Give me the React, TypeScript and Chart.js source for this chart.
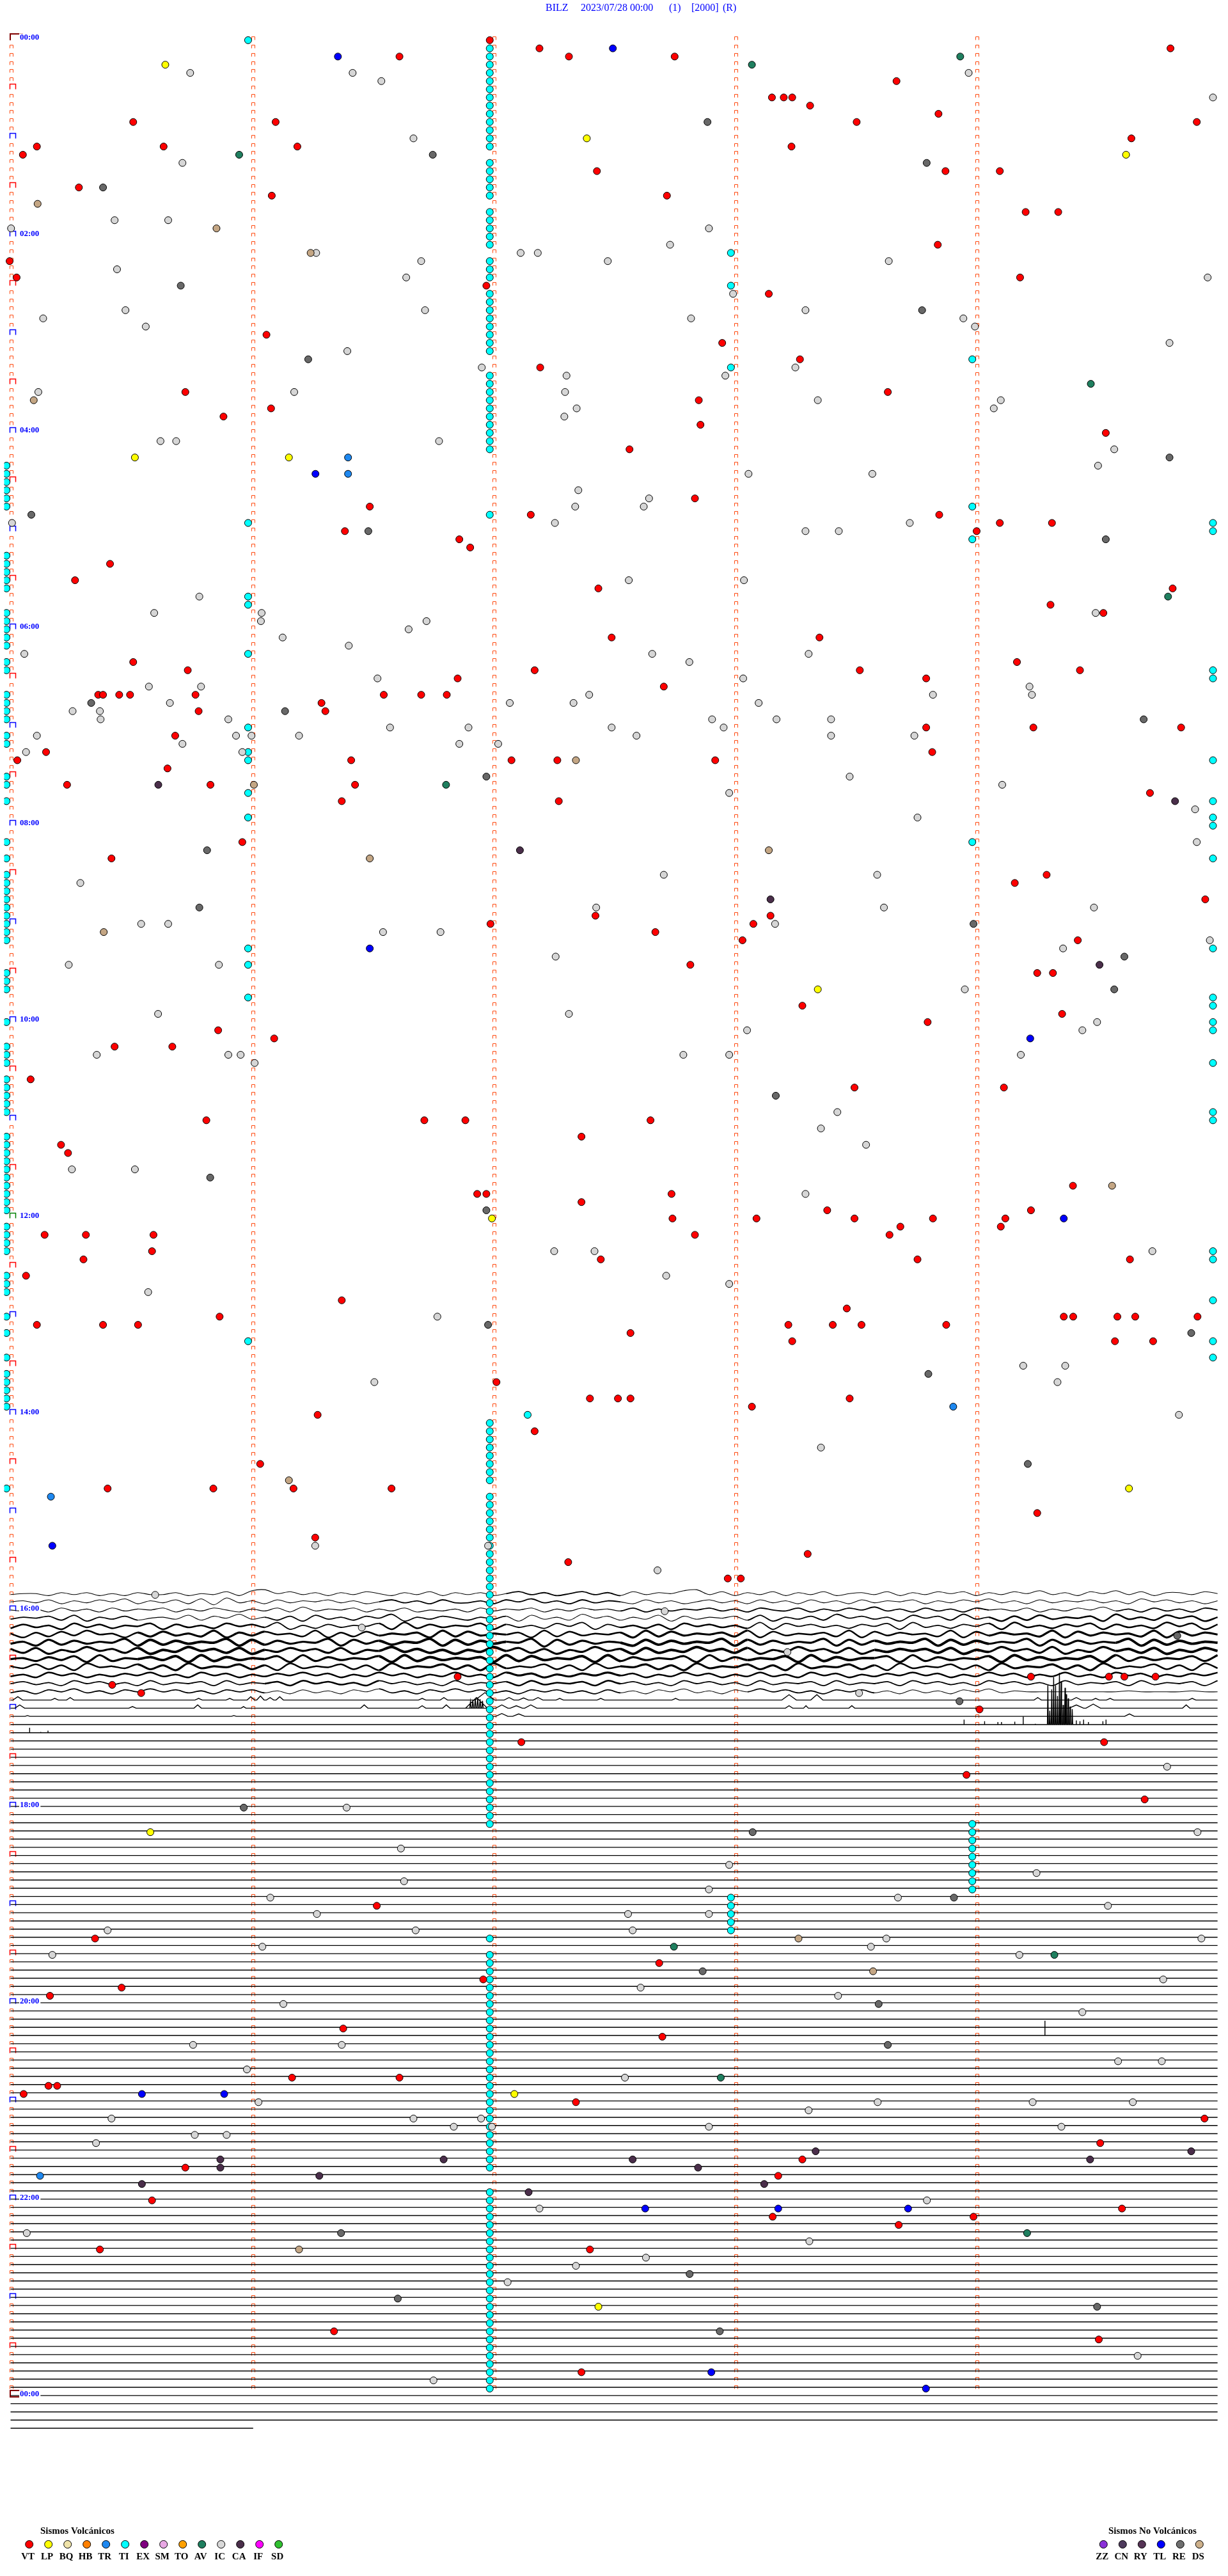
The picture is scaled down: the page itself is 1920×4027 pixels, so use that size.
import { useEffect, useRef } from 'react';
import { Chart, registerables } from 'chart.js';

Chart.register(...registerables);

// ---------------- data ----------------
const TITLE_PARTS = ['BILZ', '2023/07/28 00:00', '(1)', '[2000]', '(R)'];
const HOUR_LABELS = ['00:00', '02:00', '04:00', '06:00', '08:00', '10:00', '12:00', '14:00', '16:00', '18:00', '20:00', '22:00', '00:00'];
const HOUR_LABEL_ROWS = [0, 24, 48, 72, 96, 120, 144, 168, 192, 216, 240, 264, 288];
const ROWS_PER_DAY = 288; // 5-minute rows
const MINUTE_MARKS = [0, 1, 2, 3, 4];

const VOLC_CODES = ['VT', 'LP', 'BQ', 'HB', 'TR', 'TI', 'EX', 'SM', 'TO', 'AV', 'IC', 'CA', 'IF', 'SD'];
const VOLC_COLORS = ['#FF0000', '#FFFF00', '#EEE2A8', '#FF8000', '#1E88F0', '#00FFFF', '#800080', '#E8A8E4', '#FFA000', '#1F7F5F', '#D8D8D8', '#4A2E4A', '#FF00FF', '#30C030'];
const NONVOLC_CODES = ['ZZ', 'CN', 'RY', 'TL', 'RE', 'DS'];
const NONVOLC_COLORS = ['#8A30D8', '#4E3A5C', '#553355', '#0000FF', '#6E6E6E', '#CDB08A'];

// events: [row (5-min row since 00:00), minute within row]
const VT = [
  [0, 1.98], [1, 2.186], [1, 4.8], [2, 1.606], [2, 2.308], [2, 2.746], [5, 3.665], [7, 3.149], [7, 3.198], [7, 3.233], [8, 3.307], [9, 3.839], [10, 0.503], [10, 1.093], [10, 3.5], [10, 4.909], [12, 4.638], [13, 0.104], [13, 0.629], [13, 1.183], [13, 3.23], [14, 0.046], [16, 2.424], [16, 3.868], [16, 4.093], [18, 0.278], [19, 1.077], [19, 2.714], [21, 4.2], [21, 4.335], [25, 3.836], [27, -0.009], [29, 0.02], [29, 4.177], [30, 1.966], [31, 3.136], [36, 1.055], [37, 2.943], [39, 3.265], [40, 2.189], [43, 0.719], [43, 3.629], [44, 2.846], [45, 1.074], [46, 0.877], [47, 2.853], [48, 4.532], [50, 2.559], [56, 2.83], [57, 1.483], [58, 2.15], [58, 3.842], [59, 4.093], [59, 4.309], [60, 1.38], [60, 3.997], [61, 1.854], [62, 1.899], [64, 0.407], [66, 0.262], [67, 2.43], [67, 4.809], [69, 4.303], [70, 4.522],
  [73, 2.485], [73, 3.346], [76, 0.503], [76, 4.164], [77, 0.729], [77, 2.166], [77, 3.513], [77, 4.425], [78, 1.847], [78, 3.788], [79, 2.701], [80, 0.358], [80, 0.378], [80, 0.445], [80, 0.49], [80, 0.761], [80, 1.541], [80, 1.696], [80, 1.802], [81, 1.283], [82, 0.774], [82, 1.299], [84, 3.788], [84, 4.232], [84, 4.844], [85, 0.677], [87, 0.142], [87, 3.813], [88, 0.023], [88, 1.406], [88, 2.07], [88, 2.26], [88, 2.914], [89, 0.645], [91, 0.229], [91, 0.823], [91, 1.422], [92, 4.715], [93, 1.367], [93, 2.266], [98, 0.955], [100, 0.413], [102, 4.287], [103, 4.155], [105, 4.944], [107, 2.418], [107, 3.143], [108, 1.983], [108, 3.072], [109, 2.666], [110, 3.027], [110, 4.416], [113, 2.811], [114, 4.248], [114, 4.313], [118, 3.275], [119, 4.351], [120, 3.794], [121, 0.855], [122, 1.087], [123, 0.426], [123, 0.665], [127, 0.078], [128, 3.491], [128, 4.11], [132, 0.806], [132, 1.709], [132, 1.879], [132, 2.646], [134, 2.36], [135, 0.204], [136, 0.233], [140, 4.396], [141, 1.928], [141, 1.966], [141, 2.733], [142, 2.36], [143, 3.378], [143, 4.222], [144, 2.737], [144, 3.085], [144, 3.491], [144, 3.816], [144, 4.116],
  [145, 3.681], [145, 4.097], [146, 0.136], [146, 0.307], [146, 0.587], [146, 2.83], [146, 3.636], [148, 0.581], [149, 0.297], [149, 2.44], [149, 3.752], [149, 4.632], [151, 0.059], [154, 1.367], [155, 3.459], [156, 0.861], [156, 4.358], [156, 4.397], [156, 4.58], [156, 4.654], [156, 4.912], [157, 0.104], [157, 0.378], [157, 0.523], [157, 3.217], [157, 3.401], [157, 3.52], [157, 3.871], [158, 2.563], [159, 3.233], [159, 4.57], [159, 4.728], [164, 2.008], [166, 2.395], [166, 2.511], [166, 2.563], [166, 3.471], [167, 3.066], [168, 1.267], [170, 2.166], [174, 1.029], [177, 0.397], [177, 0.835], [177, 1.167], [177, 1.573], [180, 4.248], [183, 1.257], [185, 3.297], [186, 2.305], [188, 2.966], [188, 3.02], [200, 1.847], [200, 4.222], [200, 4.545], [200, 4.609], [200, 4.738], [201, 0.416], [202, 0.536], [204, 4.009], [208, 2.111], [208, 4.525], [212, 3.955], [215, 4.693],
  [228, 1.512], [232, 0.345], [235, 2.682], [237, 1.953], [238, 0.455], [239, 0.158], [243, 1.373], [244, 2.695], [249, 1.161], [249, 1.606], [250, 0.152], [250, 0.188], [251, 0.049], [252, 2.337], [254, 4.941], [257, 4.509], [259, 3.275], [260, 0.719], [261, 3.175], [264, 0.581], [265, 4.599], [266, 3.152], [266, 3.984], [267, 3.674], [270, 0.365], [270, 2.395], [280, 1.335], [281, 4.503], [285, 2.36],
];

const LP = [[3, 0.636], [12, 2.382], [14, 4.616], [51, 0.51], [51, 1.148], [116, 3.339], [144, 1.989], [177, 4.628], [219, 0.574], [251, 2.082], [277, 2.43]];
const TR = [[51, 1.393], [53, 1.393], [167, 3.9], [178, 0.162], [261, 0.117]];
const TL = [[1, 2.49], [2, 1.351], [53, 1.258], [111, 1.483], [122, 4.219], [144, 4.358], [184, 0.168], [251, 0.539], [251, 0.88], [265, 2.624], [265, 3.175], [265, 3.713], [285, 2.898], [287, 3.787]];
const AV = [[2, 3.929], [3, 3.066], [14, 0.942], [42, 4.47], [68, 4.79], [91, 1.799], [233, 2.743], [234, 4.319], [249, 2.937], [268, 4.206]];
const RE = [[10, 2.882], [14, 1.744], [15, 3.79], [18, 0.378], [30, 0.7], [33, 3.771], [39, 1.228], [51, 4.796], [58, 0.081], [60, 1.477], [61, 4.532], [81, 0.329], [82, 1.132], [83, 4.689], [90, 1.966], [99, 0.809], [106, 0.777], [108, 3.984], [112, 4.609], [116, 4.567], [129, 3.165], [139, 0.822], [143, 1.966], [157, 1.973], [158, 4.886], [163, 3.797], [174, 4.209], [195, 4.828], [203, 3.926], [216, 0.961], [219, 3.069], [227, 3.903], [236, 2.862], [240, 3.591], [245, 3.629], [268, 1.364], [273, 2.808], [276, 1.599], [277, 4.496], [280, 2.933]];
const DS = [[20, 0.107], [23, 0.848], [26, 1.238], [44, 0.091], [88, 2.337], [91, 1.003], [99, 3.136], [100, 1.483], [109, 0.381], [140, 4.558], [176, 1.148], [232, 3.259], [236, 3.568], [270, 1.19]];
const CA = [[91, 0.607], [93, 4.819], [99, 2.105], [105, 3.143], [113, 4.506], [258, 3.33], [258, 4.886], [259, 0.864], [259, 1.789], [259, 2.572], [259, 4.467], [260, 0.864], [260, 2.843], [261, 1.274], [262, 0.539], [262, 3.117], [263, 2.141]];
const IC = [
  [4, 0.739], [4, 1.412], [4, 3.964], [5, 1.531], [7, 4.976], [12, 1.664], [15, 0.707], [22, 0.426], [22, 0.648], [23, -0.003], [23, 2.888], [25, 2.727], [26, 1.261], [26, 2.108], [26, 2.179], [27, 1.696], [27, 2.469], [27, 3.633], [28, 0.436], [29, 1.634], [29, 4.954], [31, 2.988], [33, 0.471], [33, 1.712], [33, 3.288], [34, 0.13], [34, 2.814], [34, 3.942], [35, 0.555], [35, 3.99], [37, 4.796], [38, 1.39], [40, 1.947], [40, 3.246], [41, 2.298], [41, 2.956], [43, 0.11], [43, 1.17], [43, 2.292], [44, 3.339], [44, 4.097], [45, 2.34], [45, 4.068], [46, 2.289], [49, 0.616], [49, 0.681], [49, 1.77], [50, 4.567], [52, 4.5], [53, 3.052], [53, 3.565], [55, 2.347], [56, 2.64], [57, 2.334], [57, 2.618], [59, 0.001], [59, 2.25], [59, 3.72], [60, 3.288], [60, 3.426], [66, 2.556], [66, 3.033], [68, 0.777], [70, 0.59], [70, 1.035], [70, 4.49], [71, 1.032], [71, 1.718],
  [72, 1.644], [73, 1.122], [74, 1.396], [75, 0.052], [75, 2.653], [75, 3.301], [76, 2.807], [78, 1.515], [78, 3.03], [79, 0.568], [79, 0.784], [79, 4.216], [80, 2.392], [80, 3.816], [80, 4.226], [81, 0.655], [81, 2.063], [81, 2.327], [81, 3.094], [82, 0.252], [82, 0.365], [83, 0.368], [83, 0.897], [83, 2.901], [83, 3.168], [83, 3.394], [84, 1.567], [84, 1.892], [84, 2.485], [84, 2.949], [85, 0.104], [85, 0.929], [85, 0.993], [85, 1.19], [85, 2.588], [85, 3.394], [85, 3.739], [86, 0.707], [86, 1.854], [86, 2.015], [87, 0.059], [87, 0.955], [90, 3.471], [91, 4.103], [92, 2.972], [94, 4.902], [95, 3.752], [98, 4.909], [102, 2.701], [102, 3.585], [103, 0.284], [106, 2.421], [106, 3.613], [106, 4.483], [108, 0.536], [108, 0.648], [108, 3.162], [109, 1.538], [109, 1.776], [110, 4.963], [111, 4.355], [112, 2.253], [113, 0.236], [113, 0.858], [116, 3.948], [119, 0.606], [119, 2.308], [120, 4.496], [121, 3.046], [121, 4.435], [124, 0.352], [124, 0.897], [124, 0.948], [124, 2.782], [124, 2.972], [124, 4.18], [125, 1.006], [131, 3.42], [133, 3.352], [135, 3.539], [138, 0.249], [138, 0.51], [141, 3.288],
  [148, 2.247], [148, 2.414], [148, 4.725], [151, 2.711], [152, 2.972], [153, 0.565], [156, 1.763], [162, 4.19], [162, 4.364], [164, 1.502], [164, 4.332], [168, 4.835], [172, 3.352], [184, 1.257], [184, 1.973], [187, 2.675], [190, 0.594], [192, 2.705], [194, 1.45], [197, 3.213], [202, 3.51], [211, 4.786], [216, 1.387],
  [219, 4.912], [221, 1.612], [223, 2.972], [224, 4.245], [225, 1.625], [226, 2.888], [227, 1.071], [227, 3.671], [228, 4.541], [229, 1.264], [229, 2.553], [229, 2.888], [231, 0.397], [231, 1.673], [231, 2.572], [232, 3.623], [232, 4.928], [233, 1.038], [233, 3.559], [234, 0.168], [234, 4.174], [237, 4.77], [238, 2.605], [239, 3.423], [240, 1.125], [241, 4.435], [245, 0.751], [245, 1.367], [247, 4.583], [247, 4.764], [248, 0.974], [249, 2.54], [252, 1.022], [252, 3.587], [252, 4.229], [252, 4.644], [253, 3.301], [254, 0.413], [254, 1.664], [254, 1.944], [255, 1.831], [255, 1.989], [255, 2.888], [255, 4.348], [256, 0.758], [256, 0.89], [257, 0.349], [264, 3.791], [265, 2.186], [268, 0.062], [269, 3.304], [271, 2.627], [272, 2.337], [274, 2.054], [283, 4.664], [286, 1.747],
];

// TI (tremor) events: isolated ones plus rows of the tremor columns
const TI_SINGLE = [[168, 2.137]];
const TI_MID_MINUTE = 1.98;
const TI_MID_ROWS = [1, 2, 3, 4, 5, 6, 7, 8, 9, 10, 11, 12, 13, 15, 16, 17, 18, 19, 21, 22, 23, 24, 25, 27, 28, 29, 31, 32, 33, 34, 35, 36, 37, 38, 41, 42, 43, 44, 45, 46, 47, 48, 49, 50, 58,
  169, 170, 171, 172, 173, 174, 175, 176, 178, 179, 180, 181, 182, 183, 184, 185, 186, 187, 188, 189, 190, 191, 192, 193, 194, 195, 196, 197, 198, 199, 200, 201, 202, 203, 204, 205, 206, 207, 208, 209, 210, 211, 212, 213, 214, 215, 216, 217, 218,
  232, 234, 235, 236, 237, 238, 239, 240, 241, 242, 243, 244, 245, 246, 247, 248, 249, 250, 251, 252, 253, 254, 255, 256, 257, 258, 259, 260,
  263, 264, 265, 266, 267, 268, 269, 270, 271, 272, 273, 274, 275, 276, 277, 278, 279, 280, 281, 282, 283, 284, 285, 286, 287];
const TI_LEFT_MINUTE = -0.022;
const TI_LEFT_ROWS = [52, 53, 54, 55, 56, 57, 63, 64, 65, 66, 67, 70, 71, 72, 73, 74, 76, 77, 80, 81, 82, 83, 85, 86, 90, 91, 93, 98, 100, 102, 103, 104, 105, 106, 107, 108, 109, 110, 114, 115, 116, 120, 123, 124, 125, 127, 128, 129, 130, 131, 134, 135, 136, 137, 138, 139, 140, 141, 142, 143, 145, 146, 147, 148, 151, 152, 153, 156, 158, 161, 163, 164, 165, 166, 167, 177];
const TI_Q1_MINUTE = 0.979;
const TI_Q1_ROWS = [0, 59, 68, 69, 75, 84, 87, 88, 92, 95, 111, 113, 117, 159];
const TI_Q3_MINUTE = 2.979;
const TI_Q3_ROWS = [26, 30, 40, 227, 228, 229, 230, 231];
const TI_Q4_MINUTE = 3.979;
const TI_Q4_ROWS = [39, 57, 61, 98, 218, 219, 220, 221, 222, 223, 224, 225, 226];
const TI_RIGHT_MINUTE = 4.976;
const TI_RIGHT_ROWS = [59, 60, 77, 78, 88, 93, 95, 96, 100, 111, 117, 118, 120, 121, 125, 131, 132, 148, 149, 154, 159, 161];

// seismogram: rows with recorded signal
const TRACE_FIRST_ROW = 190;
const TRACE_LAST_ROW = 292;
const TRACE_LAST_ROW_END = 1.0; // minutes recorded on the final row
// noisy rows 190..202, amplitude codes (digit-5) along the row
const TRACE_WAVES = [
  '455364635364 463547389574 636475364736 463574635746 374658947364 736473564736 475736475846 375847366475',
  '564736475836 473829463746 574635746374 463758463746 537463574637 463746374657 364758463746 574638574636',
  '546374637465 736475364738 465736473546 374657364756 473646574637 547364758463 746375647364 758463746375',
  '465738264735 648375946372 846375926475 364728463957 364827465738 264739574628 573946273846 572946385726',
  '374628473658 274638574926 374658293746 582746385927 463728574639 285746375829 463758294637 582746395827',
  '627384956273 846392748563 927384657293 846572938465 729384657392 846573928475 639284756392 847563928475',
  '462837465928 374659283746 592847365928 374659183746 528374659283 746592837465 928374659283 746592837465',
  '738264957382 649573826485 738265947362 649583726495 728364957382 649573826475 738264957392 649573826485',
  '563748293657 482937465829 374658293746 572938465829 374658293746 582937466829 374658294746 582937465839',
  '648372956483 729465837294 658372946583 729465837294 658372946583 729465837294 658372946583 729465837294',
  '463857364758 463857364758 573648573648 463857364758 573648573648 463857364758 573648573648 463857364758',
  '574638574638 465738465738 574638574638 465738465738 574638574638 465738465738 574638574638 465738465738',
  '463758463758 574637574637 463758463758 574637574637 463758463758 574637574637 463758465555 555565555655',
];
const TRACE_NOISE = ['0000100000', '0001100000', '0000011101', '1011001122', '2212121122', '2323232233', '3434343434', '3434343434', '3434434343', '2323233232', '2222322222', '1121211111', '1101101000'];
// isolated signals on quiet rows: [row, minute, height (rows), half width (minutes)]
const BUMPS = [
  [203, 0.025, 0.4, 0.02], [203, 0.178, 0.2, 0.015], [203, 0.242, 0.3, 0.015], [203, 0.774, 0.2, 0.015], [203, 0.903, 0.2, 0.015], [203, 0.99, 0.4, 0.015], [203, 1.03, 0.5, 0.015], [203, 1.07, 0.3, 0.015], [203, 1.11, 0.4, 0.015], [203, 1.7, 0.2, 0.015], [203, 1.79, 0.3, 0.015], [203, 1.96, 0.9, 0.04], [203, 2.06, 0.3, 0.02], [203, 2.12, 0.25, 0.02], [203, 2.18, 0.3, 0.02], [203, 2.27, 0.2, 0.015], [203, 2.44, 0.2, 0.015], [203, 2.75, 0.2, 0.015], [203, 3.22, 0.65, 0.03], [203, 3.335, 0.65, 0.025], [203, 4.25, 0.3, 0.015], [203, 4.41, 0.3, 0.02], [203, 4.49, 0.2, 0.015], [203, 4.55, 0.2, 0.015], [203, 4.89, 0.2, 0.015],
  [204, 0.033, 0.4, 0.02], [204, 0.5, 0.2, 0.015], [204, 0.77, 0.4, 0.015], [204, 0.96, 0.2, 0.01], [204, 1.46, 0.4, 0.015], [204, 1.7, 0.3, 0.015], [204, 1.8, 0.4, 0.015], [204, 1.925, 1.3, 0.045], [204, 1.9, 0.8, 0.003], [204, 1.91, 1.0, 0.003], [204, 1.92, 1.2, 0.003], [204, 1.93, 1.3, 0.003], [204, 1.94, 1.1, 0.003], [204, 1.95, 0.9, 0.003], [204, 2.03, 0.4, 0.025], [204, 2.09, 0.3, 0.025], [204, 2.15, 0.4, 0.025], [204, 3.22, 0.3, 0.015], [204, 3.29, 0.3, 0.01], [204, 3.48, 0.3, 0.012], [204, 4.41, 0.4, 0.03], [204, 4.48, 0.5, 0.03], [204, 4.865, 0.4, 0.015],
  [205, 0.065, 0.1, 0.01], [205, 0.92, 0.1, 0.01], [205, 2.03, 0.35, 0.025], [205, 2.1, 0.3, 0.025], [205, 4.63, 0.3, 0.02],
  [206, 3.945, 0.6, 0], [206, 4.03, 0.4, 0], [206, 4.085, 0.3, 0], [206, 4.1, 0.3, 0], [206, 4.155, 0.35, 0], [206, 4.19, 1.0, 0], [206, 4.24, 0.1, 0], [206, 4.292, 4.8, 0.002], [206, 4.3, 1.7, 0.002], [206, 4.308, 4.3, 0.002], [206, 4.316, 5.8, 0.002], [206, 4.324, 4.8, 0.002], [206, 4.332, 3.5, 0.002], [206, 4.34, 6.3, 0.002], [206, 4.347, 5.3, 0.002], [206, 4.355, 2.4, 0.002], [206, 4.363, 4.5, 0.002], [206, 4.368, 3.7, 0.002], [206, 4.376, 3.2, 0.002], [206, 4.384, 2.2, 0.002], [206, 4.393, 1.9, 0.002], [206, 4.41, 0.5, 0], [206, 4.425, 0.4, 0], [206, 4.44, 0.6, 0], [206, 4.46, 0.3, 0], [206, 4.52, 0.4, 0], [206, 4.533, 0.6, 0],
  [207, 0.074, 0.6, 0], [207, 0.12, 0.1, 0], [207, 0.15, 0.25, 0],
  [244, 4.28, 1.8, 0],
];

// ---------------- layout / style ----------------
const W = 1920;
const H = 4027;
const ROW_PX = 12.833;
const ROW0_PX = 52;
const MIN_PX = 380;
const MIN0_PX = 12;
const X_MIN = -MIN0_PX / MIN_PX;
const X_MAX = (W - MIN0_PX) / MIN_PX;
const Y_MIN = -ROW0_PX / ROW_PX;
const Y_MAX = (H - ROW0_PX) / ROW_PX;
const LINE_OFF = 0.2;
const DOT_OFF = 0.35;
const WAVE_UNIT = 0.12;
const LINE_START = -0.005;
const LINE_END = 4.995;
const SERIF = '"Liberation Serif", "Times New Roman", serif';

const EVENT_COLORS: Record<string, string> = {
  VT: '#FF0000', LP: '#FFFF00', TR: '#1E88F0', TI: '#00FFFF', AV: '#1F7F5F', IC: '#D6D6D6', CA: '#4A2E4A', TL: '#0000FF', RE: '#686868', DS: '#C4A684',
};

function toPoints(list: number[][]) {
  return list.map(([r, m]) => ({ x: m, y: r + DOT_OFF }));
}

function buildTiPoints() {
  const pts: { x: number; y: number }[] = [];
  const add = (rows: number[], m: number) => rows.forEach((r) => pts.push({ x: m, y: r + DOT_OFF }));
  add(TI_MID_ROWS, TI_MID_MINUTE);
  add(TI_LEFT_ROWS, TI_LEFT_MINUTE);
  add(TI_Q1_ROWS, TI_Q1_MINUTE);
  add(TI_Q3_ROWS, TI_Q3_MINUTE);
  add(TI_Q4_ROWS, TI_Q4_MINUTE);
  add(TI_RIGHT_ROWS, TI_RIGHT_MINUTE);
  TI_SINGLE.forEach(([r, m]) => pts.push({ x: m, y: r + DOT_OFF }));
  return pts;
}

function buildTraceDatasets() {
  const sets: any[] = [];
  for (let r = TRACE_FIRST_ROW; r <= TRACE_LAST_ROW; r++) {
    const base = r + LINE_OFF;
    const end = r === TRACE_LAST_ROW ? TRACE_LAST_ROW_END : LINE_END;
    const wi = r - TRACE_FIRST_ROW;
    if (wi < TRACE_WAVES.length) {
      const codes = TRACE_WAVES[wi].replace(/\s/g, '');
      const n = codes.length;
      const pts = [];
      for (let i = 0; i < n; i++) {
        const v = (parseInt(codes[i], 10) - 5) * WAVE_UNIT;
        pts.push({ x: LINE_START + (i * (end - LINE_START)) / (n - 1), y: base - v });
      }
      const noise = TRACE_NOISE[wi];
      sets.push({
        type: 'line', data: pts, borderColor: '#000', borderWidth: 1.2, pointRadius: 0, tension: 0.3, fill: false, order: 20,
        borderJoinStyle: 'round',
        segment: {
          borderWidth: (ctx: any) => {
            const k = Math.min(noise.length - 1, Math.floor((ctx.p0DataIndex / n) * noise.length));
            return 1.1 + 0.7 * parseInt(noise[k], 10);
          },
        },
      });
    } else {
      const bumps = BUMPS.filter((b) => b[0] === r).sort((a, b) => a[1] - b[1]);
      const pts = [{ x: LINE_START, y: base }];
      bumps.forEach(([, m, h, w]) => {
        pts.push({ x: m - w, y: base });
        pts.push({ x: m, y: base - h });
        pts.push({ x: m + w, y: base });
      });
      pts.push({ x: end, y: base });
      sets.push({ type: 'line', data: pts, borderColor: '#000', borderWidth: 1.4, pointRadius: 0, tension: 0, fill: false, order: 20 });
    }
  }
  return sets;
}

function eventDataset(code: string, points: { x: number; y: number }[], order: number) {
  return {
    type: 'line', label: code, data: points, showLine: false, pointRadius: 5.5, pointBorderWidth: 1,
    pointBackgroundColor: EVENT_COLORS[code], pointBorderColor: '#000', order,
  };
}

function cap(ctx: CanvasRenderingContext2D, x0: number, y0: number, w: number, h: number, color: string, lw: number) {
  ctx.strokeStyle = color;
  ctx.lineWidth = lw;
  ctx.beginPath();
  ctx.moveTo(x0, y0 + h);
  ctx.lineTo(x0, y0);
  ctx.lineTo(x0 + w, y0);
  ctx.lineTo(x0 + w, y0 + h);
  ctx.stroke();
}

const helicorderPlugin = {
  id: 'helicorder',
  beforeDatasetsDraw(chart: any) {
    const ctx: CanvasRenderingContext2D = chart.ctx;
    const xs = chart.scales.x;
    const ys = chart.scales.y;
    ctx.save();
    for (let r = 0; r < ROWS_PER_DAY; r++) {
      const y = Math.round(ys.getPixelForValue(r));
      MINUTE_MARKS.forEach((k) => {
        if (k === 0 && r % 6 === 0) return;
        const x = Math.round(xs.getPixelForValue(k));
        cap(ctx, x - 2.5, y - 0.5, 5, 5, '#FF4A10', 1);
      });
      if (r % 6 === 0) {
        const x = Math.round(xs.getPixelForValue(0));
        if (r === 0) {
          cap(ctx, x - 2, y - 5, 19, 10, '#800000', 2);
        } else {
          const color = r === 144 ? '#008000' : r % 12 === 0 ? '#0000FF' : '#FF0000';
          cap(ctx, x - 2.5, y - 3.5, 9, 8, color, 1.5);
        }
      }
    }
    const yEnd = Math.round(ys.getPixelForValue(ROWS_PER_DAY));
    const xEnd = Math.round(xs.getPixelForValue(0));
    ctx.strokeStyle = '#800000';
    ctx.lineWidth = 2;
    ctx.strokeRect(xEnd - 2, yEnd - 5, 19, 10);
    ctx.restore();
  },
  afterDatasetsDraw(chart: any) {
    const ctx: CanvasRenderingContext2D = chart.ctx;
    const ys = chart.scales.y;
    ctx.save();
    // hour labels
    ctx.font = `bold 13px ${SERIF}`;
    ctx.textBaseline = 'middle';
    HOUR_LABELS.forEach((lab, i) => {
      const y = ys.getPixelForValue(HOUR_LABEL_ROWS[i]);
      const w = ctx.measureText(lab).width;
      ctx.fillStyle = '#FFFFFF';
      ctx.fillRect(30, y - 6, w + 3, 12);
      ctx.fillStyle = '#0000FF';
      ctx.fillText(lab, 31, y + 0.5);
    });
    // title
    const titleX = [853, 908, 1046, 1081, 1130];
    ctx.font = `16px ${SERIF}`;
    ctx.fillStyle = '#0000FF';
    TITLE_PARTS.forEach((t, i) => ctx.fillText(t, titleX[i], 13));
    // legends
    const drawLegend = (title: string, titleX0: number, codes: string[], colors: string[], cx0: number) => {
      ctx.font = `bold 15px ${SERIF}`;
      ctx.fillStyle = '#000';
      ctx.textAlign = 'left';
      ctx.fillText(title, titleX0, 3957);
      codes.forEach((c, i) => {
        const cx = cx0 + 30 * i;
        ctx.beginPath();
        ctx.arc(cx, 3977.5, 6, 0, Math.PI * 2);
        ctx.fillStyle = colors[i];
        ctx.fill();
        ctx.lineWidth = 1;
        ctx.strokeStyle = '#000';
        ctx.stroke();
        ctx.fillStyle = '#000';
        ctx.textAlign = 'center';
        ctx.fillText(c, cx - 2, 3997);
        ctx.textAlign = 'left';
      });
    };
    drawLegend('Sismos Volcánicos', 63, VOLC_CODES, VOLC_COLORS, 45.7);
    drawLegend('Sismos No Volcánicos', 1733, NONVOLC_CODES, NONVOLC_COLORS, 1725.3);
    ctx.restore();
  },
};

export default function App() {
  const ref = useRef<HTMLCanvasElement | null>(null);
  useEffect(() => {
    if (!ref.current) return;
    const datasets: any[] = [
      eventDataset('VT', toPoints(VT), 1),
      eventDataset('LP', toPoints(LP), 2),
      eventDataset('TL', toPoints(TL), 2),
      eventDataset('TR', toPoints(TR), 2),
      eventDataset('AV', toPoints(AV), 2),
      eventDataset('RE', toPoints(RE), 3),
      eventDataset('DS', toPoints(DS), 3),
      eventDataset('CA', toPoints(CA), 3),
      eventDataset('IC', toPoints(IC), 4),
      eventDataset('TI', buildTiPoints(), 5),
      ...buildTraceDatasets(),
    ];
    const chart = new Chart(ref.current, {
      type: 'line',
      data: { datasets },
      options: {
        animation: false,
        responsive: false,
        devicePixelRatio: 1,
        events: [],
        layout: { padding: 0 },
        plugins: { legend: { display: false }, title: { display: false }, tooltip: { enabled: false } },
        scales: {
          x: { type: 'linear', min: X_MIN, max: X_MAX, display: false, bounds: 'data' },
          y: { type: 'linear', min: Y_MIN, max: Y_MAX, reverse: true, display: false, bounds: 'data' },
        },
      } as any,
      plugins: [helicorderPlugin],
    } as any);
    return () => chart.destroy();
  }, []);
  return (
    <div style={{ position: 'absolute', left: 0, top: 0, width: W, height: H, background: '#fff' }}>
      <canvas ref={ref} width={W} height={H} style={{ width: W, height: H, display: 'block' }} />
    </div>
  );
}
